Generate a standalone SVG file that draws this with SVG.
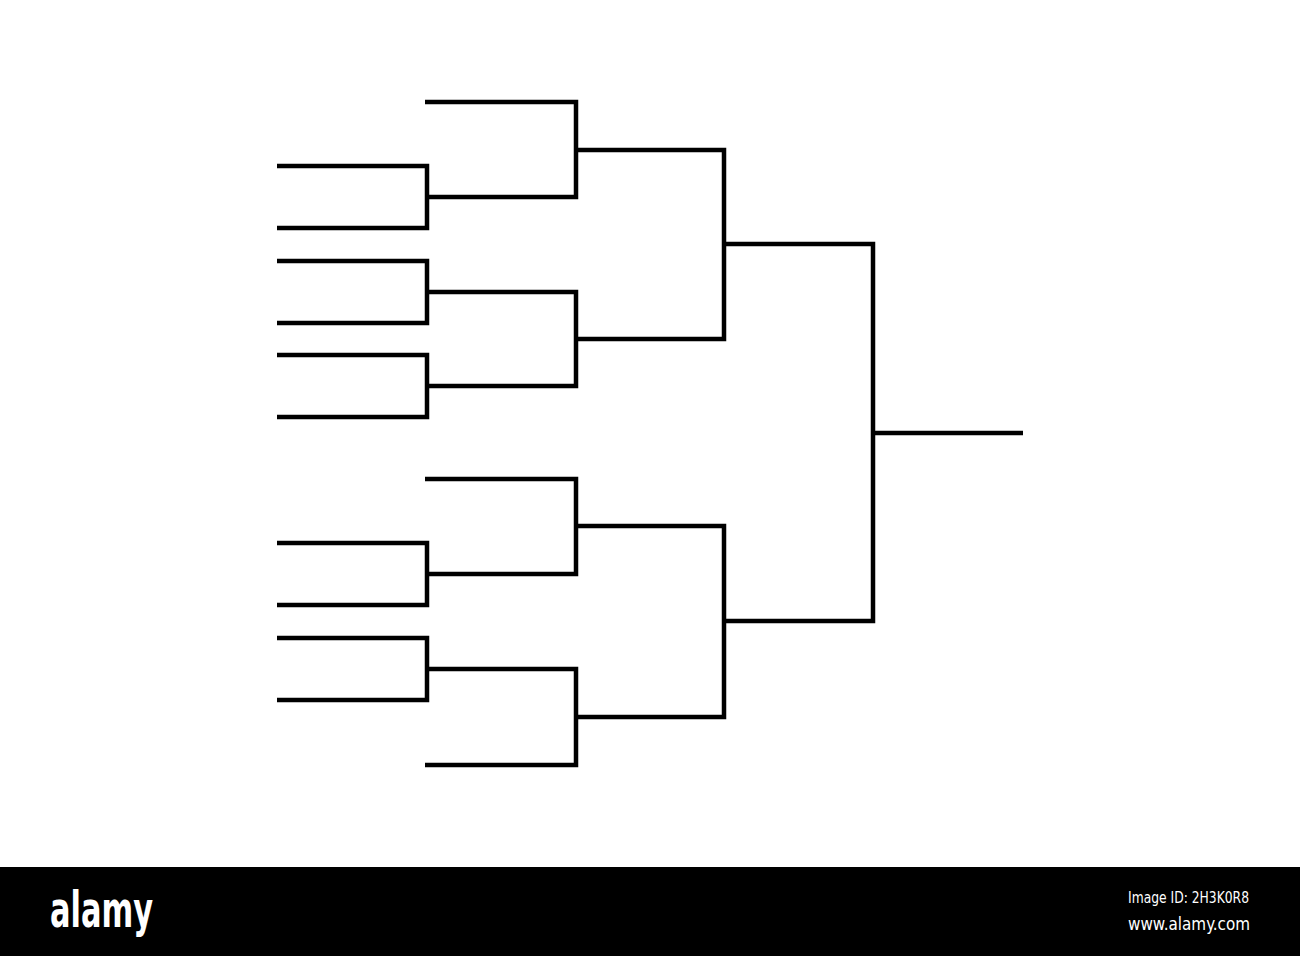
<svg xmlns="http://www.w3.org/2000/svg" width="1300" height="956" viewBox="0 0 1300 956">
<style>
.ln{fill:none;stroke:#000;stroke-width:4.5;stroke-linejoin:miter;stroke-linecap:butt}
.wm{fill:#fff;font-family:"DejaVu Sans Condensed","DejaVu Sans",sans-serif}
</style>
<rect width="1300" height="956" fill="#fff"/>
<g id="connectors">
<g id="r1">
<path class="ln" d="M277,166 H427 V228 H277"/>
<path class="ln" d="M277,261 H427 V323 H277"/>
<path class="ln" d="M277,355 H427 V417 H277"/>
<path class="ln" d="M277,543 H427 V605 H277"/>
<path class="ln" d="M277,638 H427 V700 H277"/>
</g>
<g id="r2">
<path class="ln" d="M425,102 H576 V197 H427"/>
<path class="ln" d="M427,292 H576 V386 H427"/>
<path class="ln" d="M425,479 H576 V574 H427"/>
<path class="ln" d="M427,669 H576 V765 H425"/>
</g>
<g id="r3">
<path class="ln" d="M576,150 H724 V339 H576"/>
<path class="ln" d="M576,526 H724 V717 H576"/>
</g>
<g id="r4">
<path class="ln" d="M724,244 H873 V621 H724"/>
</g>
<g id="final">
<path class="ln" d="M873,433 H1023"/>
</g>
</g>
<g id="watermark">
<rect x="0" y="867" width="1300" height="89" fill="#000"/>
<text class="wm" x="50" y="927" font-size="50" font-weight="bold" textLength="103" lengthAdjust="spacingAndGlyphs">alamy</text>
<text class="wm" x="1128" y="903" font-size="15" textLength="121" lengthAdjust="spacingAndGlyphs">Image ID: 2H3K0R8</text>
<text class="wm" x="1128" y="930" font-size="18" textLength="122" lengthAdjust="spacingAndGlyphs">www.alamy.com</text>
</g>
</svg>
